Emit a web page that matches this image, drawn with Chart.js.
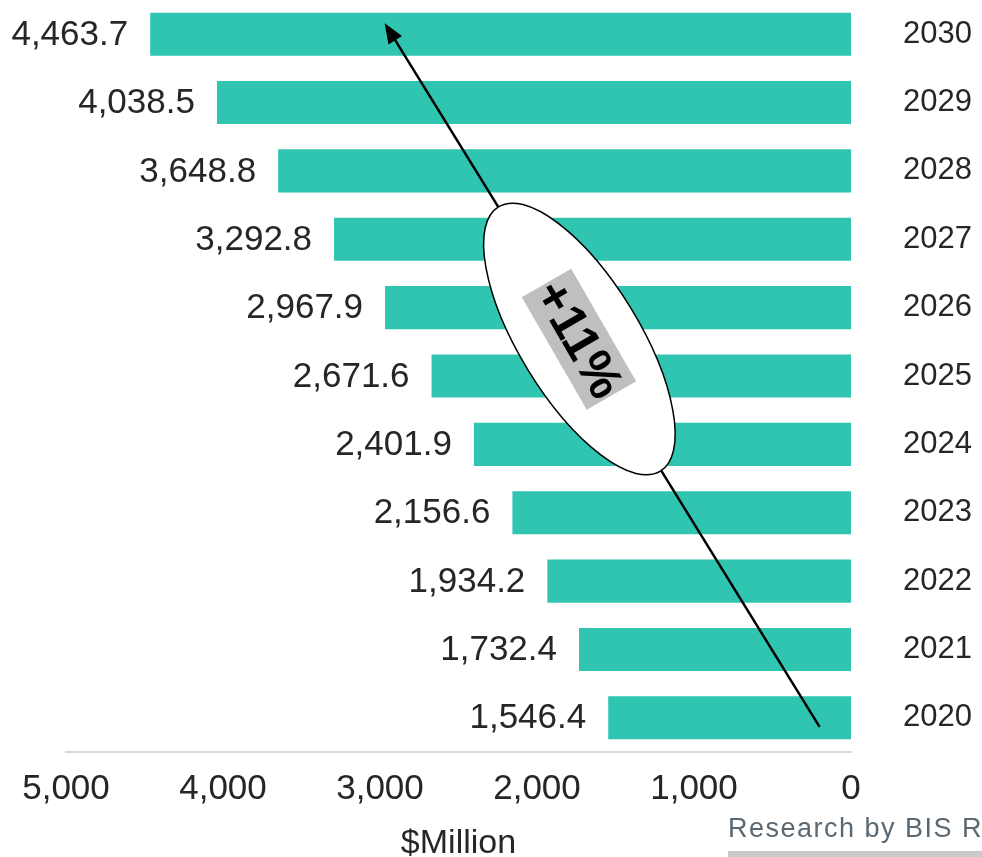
<!DOCTYPE html>
<html>
<head>
<meta charset="utf-8">
<script src="https://cdn.jsdelivr.net/npm/chart.js@4"></script>
<style>
  html, body { margin: 0; padding: 0; background: #fff; }
  #wrap { width: 982px; height: 857px; }
</style>
</head>
<body>
<div id="wrap"><canvas id="bars" width="982" height="857"></canvas></div>
<script>
// market size per year, $Million (top bar first)
const years = ["2030", "2029", "2028", "2027", "2026", "2025", "2024", "2023", "2022", "2021", "2020"];
const values = [4463.7, 4038.5, 3648.8, 3292.8, 2967.9, 2671.6, 2401.9, 2156.6, 1934.2, 1732.4, 1546.4];
const xTicks = [0, 1000, 2000, 3000, 4000, 5000];
const growth = "+11%";

const sans = "'Liberation Sans', Arial, sans-serif";
const textColor = "#262626";

const fmt = (v, d) => v.toLocaleString("en-US", { minimumFractionDigits: d, maximumFractionDigits: d });

// value labels left of each bar, plus the growth arrow and the footer text
const extras = {
  id: "extras",
  afterDatasetsDraw(chart) {
    const ctx = chart.ctx;
    const xs = chart.scales.x, ys = chart.scales.y;
    const meta = chart.getDatasetMeta(0);

    ctx.save();
    ctx.font = "35px " + sans;
    ctx.fillStyle = textColor;
    ctx.textAlign = "right";
    ctx.textBaseline = "middle";
    meta.data.forEach((bar, i) => {
      ctx.fillText(fmt(values[i], 1), bar.x - 22, bar.y + 1);
    });
    ctx.restore();

    // arrow
    const x0 = xs.getPixelForValue(200), y0 = ys.getPixelForValue(years.length - 1) + 9;
    const x1 = xs.getPixelForValue(2970), y1 = ys.getPixelForValue(0) - 11;
    const ang = Math.atan2(y1 - y0, x1 - x0);
    ctx.save();
    ctx.strokeStyle = "#000";
    ctx.lineWidth = 2.5;
    ctx.beginPath();
    ctx.moveTo(x0, y0);
    ctx.lineTo(x1 - 14 * Math.cos(ang), y1 - 14 * Math.sin(ang));
    ctx.stroke();
    ctx.fillStyle = "#000";
    ctx.beginPath();
    ctx.moveTo(x1, y1);
    ctx.lineTo(x1 - 20 * Math.cos(ang) + 8 * Math.sin(ang), y1 - 20 * Math.sin(ang) - 8 * Math.cos(ang));
    ctx.lineTo(x1 - 20 * Math.cos(ang) - 8 * Math.sin(ang), y1 - 20 * Math.sin(ang) + 8 * Math.cos(ang));
    ctx.closePath();
    ctx.fill();

    // ellipse with the growth label
    const cx = xs.getPixelForValue(1730), cy = (y0 + y1) / 2 - 36;
    const rot = 58.5 * Math.PI / 180;
    ctx.beginPath();
    ctx.ellipse(cx, cy, 155, 60, rot, 0, Math.PI * 2);
    ctx.fillStyle = "#fff";
    ctx.fill();
    ctx.lineWidth = 1.5;
    ctx.stroke();

    ctx.translate(cx, cy);
    ctx.rotate(60 * Math.PI / 180);
    ctx.fillStyle = "#bfbfbf";
    ctx.fillRect(-65, -28, 130, 57);
    ctx.fillStyle = "#000";
    ctx.font = "bold 50px " + sans;
    ctx.textAlign = "center";
    ctx.textBaseline = "middle";
    ctx.fillText(growth, 0, 3);
    ctx.restore();

    // axis title and source note
    ctx.save();
    ctx.font = "34px " + sans;
    ctx.fillStyle = textColor;
    ctx.textAlign = "center";
    ctx.textBaseline = "alphabetic";
    ctx.fillText("$Million", (chart.chartArea.left + chart.chartArea.right) / 2, 853);

    ctx.font = "27px " + sans;
    ctx.letterSpacing = "1.5px";
    ctx.fillStyle = "#5a6873";
    ctx.textAlign = "left";
    ctx.fillText("Research by BIS Research", 728, 837);
    ctx.fillStyle = "#c9c9c9";
    ctx.fillRect(728, 851, 982 - 728, 6);
    ctx.restore();
  }
};

new Chart(document.getElementById("bars"), {
  type: "bar",
  data: {
    labels: years,
    datasets: [{
      data: values,
      backgroundColor: "#2fc5b1",
      barPercentage: 0.63,
      categoryPercentage: 1
    }]
  },
  options: {
    indexAxis: "y",
    responsive: false,
    animation: false,
    layout: { padding: { left: 66, top: 0, right: 0, bottom: 0 } },
    plugins: {
      legend: { display: false },
      tooltip: { enabled: false }
    },
    scales: {
      x: {
        reverse: true,
        min: 0,
        max: 5000,
        afterBuildTicks: (s) => { s.ticks = xTicks.map(v => ({ value: v })); },
        grid: { display: false, drawTicks: false },
        border: { display: true, color: "#d9d9d9", width: 2 },
        ticks: {
          padding: 16,
          color: textColor,
          font: { family: sans, size: 35 },
          callback: (v) => fmt(v, 0)
        },
        afterFit: (s) => { s.height = 105; }
      },
      y: {
        position: "right",
        grid: { display: false, drawTicks: true, tickLength: 48 },
        border: { display: false },
        ticks: {
          padding: 4,
          color: textColor,
          font: { family: sans, size: 31 }
        },
        afterFit: (s) => { s.width = 131; s.paddingTop = 0; s.paddingBottom = 0; }
      }
    }
  },
  plugins: [extras]
});
</script>
</body>
</html>
